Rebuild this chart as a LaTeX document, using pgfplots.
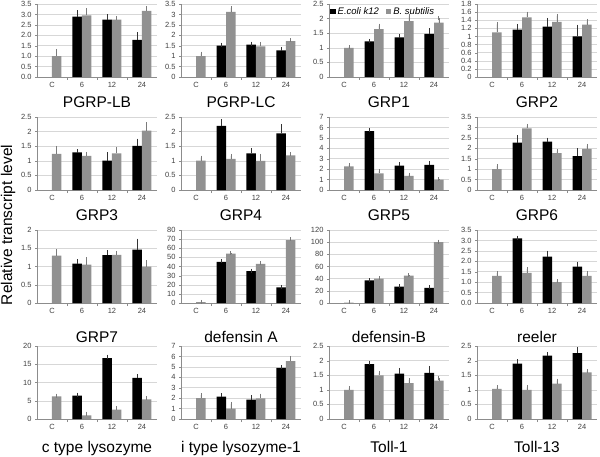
\documentclass[border=0pt]{standalone}
\usepackage{pgfplots}
\pgfplotsset{compat=1.18}
\usepackage{fontspec}
\setmainfont{Liberation Sans}
\definecolor{barg}{RGB}{145,145,145}
\definecolor{gridc}{RGB}{215,215,215}
\definecolor{axc}{RGB}{140,140,140}
\pgfplotsset{
 panel/.style={
  scale only axis, anchor=south west, width=120pt, height=73pt,
  ybar=0pt, bar width=9.5pt,
  ymin=0, xmin=-0.5, xmax=3.5,
  axis lines*=left, axis line style={-, axc, line width=0.6pt},
  xtick={0,1,2,3}, xticklabels={C,6,12,24},
  minor xtick={0.5,1.5,2.5},
  tick align=outside,
  major x tick style={draw=none},
  minor x tick style={axc},
  minor tick length=3pt, major tick length=2pt,
  ytick style={axc},
  ymajorgrids, grid style={gridc, line width=0.5pt},
  ticklabel style={font=\fontsize{7.5}{8}\selectfont, text=black!75},
  /pgf/number format/assume math mode=true,
  clip=false,
 },
 sqleg/.style={legend image code/.code={\fill[##1,draw=none] (0pt,-2.8pt) rectangle (5.5pt,2.8pt);}},
 blk/.style={fill=black, draw=none,
  /pgfplots/error bars/y dir=plus, /pgfplots/error bars/y explicit,
  /pgfplots/error bars/error bar style={black!80, line width=0.5pt},
  /pgfplots/error bars/error mark options={black!80, mark size=2pt, line width=0.5pt}},
 gry/.style={fill=barg, draw=none,
  /pgfplots/error bars/y dir=plus, /pgfplots/error bars/y explicit,
  /pgfplots/error bars/error bar style={barg!85!black, line width=0.5pt},
  /pgfplots/error bars/error mark options={barg!85!black, mark size=2pt, line width=0.5pt}},
}
\newcommand{\fixone}{yticklabel style={/pgf/number format/.cd, fixed, fixed zerofill, precision=1}}
\newcommand{\panel}[9]{%
 \begin{axis}[panel, at={(#1pt,#2pt)}, ymax=#3, ytick distance=#4, #5]
 \addplot[blk] coordinates {#6};
 \addplot[gry] coordinates {#7};
 \end{axis}
 \node[anchor=base, font=\fontsize{15.5}{17}\selectfont, inner sep=0pt] at (#1pt+60pt, #9pt) {#8};
}
\begin{document}
\begin{tikzpicture}[x=1pt,y=1pt]
\useasboundingbox (0,0) rectangle (600,456);
\node[rotate=90, font=\fontsize{15.5}{17}\selectfont, inner sep=0pt] at (8,231) {Relative transcript level};
% Row 1
\panel{37}{379}{3.5}{0.5}{\fixone}{(1,2.9) +- (0,0.2) (2,2.75) +- (0,0.17) (3,1.78) +- (0,0.28)}{(0,1.0) +- (0,0.25) (1,2.95) +- (0,0.25) (2,2.75) +- (0,0.07) (3,3.17) +- (0,0.12)}{PGRP-LB}{348}
\panel{181}{379}{3.5}{0.5}{}{(1,1.5) +- (0,0.05) (2,1.55) +- (0,0.05) (3,1.28) +- (0,0.05)}{(0,1.0) +- (0,0.12) (1,3.12) +- (0,0.18) (2,1.47) +- (0,0.12) (3,1.72) +- (0,0.03)}{PGRP-LC}{348}
\panel{329}{379}{2.5}{0.5}{sqleg, legend entries={E.coli k12, B. subtilis}, legend style={at={(axis cs:-0.5,2.5)}, anchor=north west, draw=none, fill=none, legend columns=2, font=\fontsize{9.5}{10}\selectfont\itshape, inner sep=1pt, /tikz/every even column/.append style={column sep=5pt}}}{(1,1.22) +- (0,0.02) (2,1.36) +- (0,0.04) (3,1.48) +- (0,0.12)}{(0,1.0) +- (0,0.02) (1,1.64) +- (0,0.12) (2,1.91) +- (0,0.17) (3,1.86) +- (0,0.15)}{GRP1}{348}
\panel{477}{379}{1.8}{0.2}{}{(1,1.17) +- (0,0.09) (2,1.24) +- (0,0.17) (3,1.0) +- (0,0.24)}{(0,1.1) +- (0,0.2) (1,1.47) +- (0,0.09) (2,1.36) +- (0,0.15) (3,1.29) +- (0,0.08)}{GRP2}{348}
% Row 2
\panel{37}{266}{2.5}{0.5}{}{(1,1.29) +- (0,0.03) (2,1.01) +- (0,0.22) (3,1.51) +- (0,0.18)}{(0,1.24) +- (0,0.2) (1,1.17) +- (0,0.07) (2,1.25) +- (0,0.16) (3,2.03) +- (0,0.23)}{GRP3}{236}
\panel{181}{266}{2.5}{0.5}{}{(1,2.2) +- (0,0.16) (2,1.25) +- (0,0.12) (3,1.94) +- (0,0.25)}{(0,1.01) +- (0,0.1) (1,1.07) +- (0,0.1) (2,1.0) +- (0,0.17) (3,1.19) +- (0,0.04)}{GRP4}{236}
\panel{329}{266}{7}{1}{}{(1,5.65) +- (0,0.12) (2,2.33) +- (0,0.15) (3,2.4) +- (0,0.15)}{(0,2.27) +- (0,0.12) (1,1.6) +- (0,0.2) (2,1.35) +- (0,0.12) (3,1.0) +- (0,0.05)}{GRP5}{236}
\panel{477}{266}{3.5}{0.5}{}{(1,2.27) +- (0,0.25) (2,2.32) +- (0,0.1) (3,1.62) +- (0,0.28)}{(0,1.0) +- (0,0.15) (1,2.95) +- (0,0.12) (2,1.77) +- (0,0.08) (3,1.97) +- (0,0.15)}{GRP6}{236}
% Row 3
\panel{37}{153}{2}{0.5}{}{(1,1.08) +- (0,0.07) (2,1.31) +- (0,0.08) (3,1.46) +- (0,0.25)}{(0,1.3) +- (0,0.12) (1,1.05) +- (0,0.15) (2,1.32) +- (0,0.05) (3,1.0) +- (0,0.12)}{GRP7}{114}
\panel{181}{153}{80}{10}{}{(1,45) +- (0,0.6) (2,35) +- (0,0.6) (3,17) +- (0,0.6)}{(0,1.0) +- (0,0.3) (1,54) +- (0,0.6) (2,43) +- (0,0.8) (3,69) +- (0,0.6)}{defensin A}{114}
\panel{329}{153}{120}{20}{}{(1,37) +- (0,0.8) (2,27) +- (0,0.6) (3,25) +- (0,0.6)}{(0,0.8) +- (0,0.3) (1,40) +- (0,0.8) (2,45) +- (0,0.8) (3,100) +- (0,0.8)}{defensin-B}{114}
\panel{477}{153}{3.5}{0.5}{\fixone}{(1,3.1) +- (0,0.03) (2,2.22) +- (0,0.2) (3,1.75) +- (0,0.12)}{(0,1.3) +- (0,0.13) (1,1.45) +- (0,0.18) (2,1.0) +- (0,0.05) (3,1.3) +- (0,0.13)}{reeler}{114}
% Row 4
\panel{37}{37}{20}{5}{}{(1,6.4) +- (0,0.3) (2,16.7) +- (0,0.4) (3,11.3) +- (0,0.4)}{(0,6.2) +- (0,0.2) (1,1.0) +- (0,0.5) (2,2.6) +- (0,0.3) (3,5.4) +- (0,0.3)}{c type lysozyme}{4}
\panel{181}{37}{7}{1}{}{(1,2.15) +- (0,0.15) (2,1.85) +- (0,0.25) (3,4.9) +- (0,0.07)}{(0,2.0) +- (0,0.3) (1,1.0) +- (0,0.45) (2,1.98) +- (0,0.25) (3,5.55) +- (0,0.3)}{i type lysozyme-1}{4}
\panel{329}{37}{2.5}{0.5}{}{(1,1.88) +- (0,0.05) (2,1.55) +- (0,0.13) (3,1.58) +- (0,0.17)}{(0,1.0) +- (0,0.05) (1,1.49) +- (0,0.08) (2,1.23) +- (0,0.1) (3,1.31) +- (0,0.1)}{Toll-1}{4}
\panel{477}{37}{2.5}{0.5}{}{(1,1.9) +- (0,0.08) (2,2.17) +- (0,0.05) (3,2.26) +- (0,0.13)}{(0,1.03) +- (0,0.05) (1,1.0) +- (0,0.08) (2,1.21) +- (0,0.1) (3,1.6) +- (0,0.04)}{Toll-13}{4}
\end{tikzpicture}
\end{document}
